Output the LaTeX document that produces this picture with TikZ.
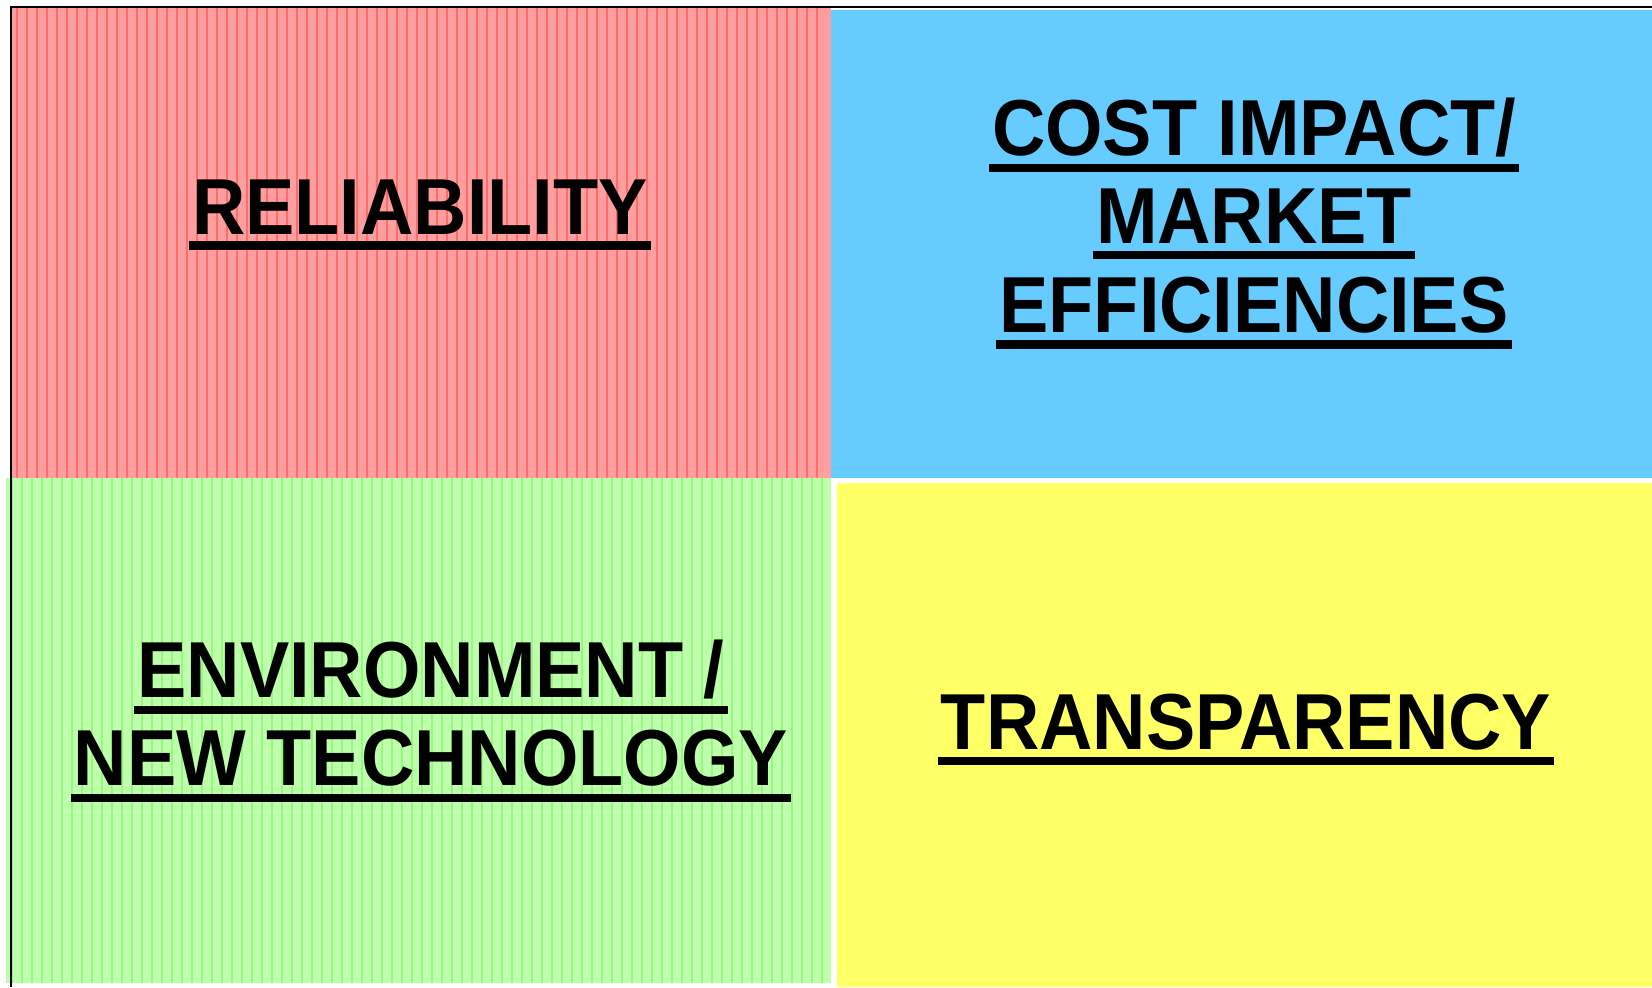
\documentclass[tikz,border=0pt]{standalone}
\usepackage{fontspec}
\newfontfamily\quadfont{Liberation Sans}
\definecolor{relred}{RGB}{255,158,158}
\definecolor{relstripe}{RGB}{255,60,60}
\definecolor{costblue}{RGB}{102,204,255}
\definecolor{envgreen}{RGB}{190,255,172}
\definecolor{envstripe}{RGB}{115,240,85}
\definecolor{transyellow}{RGB}{255,255,102}
\newcommand{\quadul}[1]{\scalebox{0.93}[1]{\vtop{\hbox{\kern1pt#1\kern1pt}\kern2pt\hrule height 2.4pt}}}
\tikzset{quadtext/.style={inner sep=0pt, anchor=north, align=center,
  font=\quadfont\bfseries\fontsize{22.6}{25.2}\selectfont}}

\begin{document}
\begin{tikzpicture}
\useasboundingbox (0,0) rectangle (16.52,-9.87);
\fill[white] (0,0) rectangle (16.52,-9.87);
\coordinate (relA) at (0.12,-0.08);
\coordinate (relB) at (8.31,-4.78);
\coordinate (costA) at (8.31,-0.10);
\coordinate (costB) at (16.52,-4.78);
\coordinate (envA) at (0.06,-4.78);
\coordinate (envB) at (8.31,-9.83);
\coordinate (transA) at (8.37,-4.83);
\coordinate (transB) at (16.52,-9.87);

\fill[relred] (relA) rectangle (relB);
\foreach \x in {0.17,0.27,...,8.27}
  \draw[relstripe, opacity=0.5, line width=0.35pt] (\x,-0.08) -- (\x,-4.78);
\fill[costblue] (costA) rectangle (costB);
\fill[envgreen] (envA) rectangle (envB);
\foreach \x in {0.12,0.22,...,8.27}
  \draw[envstripe, opacity=0.5, line width=0.35pt] (\x,-4.78) -- (\x,-9.83);
\fill[transyellow] (transA) rectangle (transB);
\draw[line width=0.6pt] (0.11,-9.87) -- (0.11,-0.07) -- (16.52,-0.07);

\node[quadtext] (rel) at (4.20,-1.79) {\quadul{RELIABILITY}};
\node[quadtext] (cost) at (12.54,-0.97) {\quadul{COST IMPACT/}\\\quadul{MARKET}\\\quadul{EFFICIENCIES}};
\node[quadtext] (env) at (4.31,-6.39) {\quadul{ENVIRONMENT /}\\\quadul{NEW TECHNOLOGY}};
\node[quadtext] (trans) at (12.46,-6.93) {\quadul{TRANSPARENCY}};
\end{tikzpicture}
\end{document}
